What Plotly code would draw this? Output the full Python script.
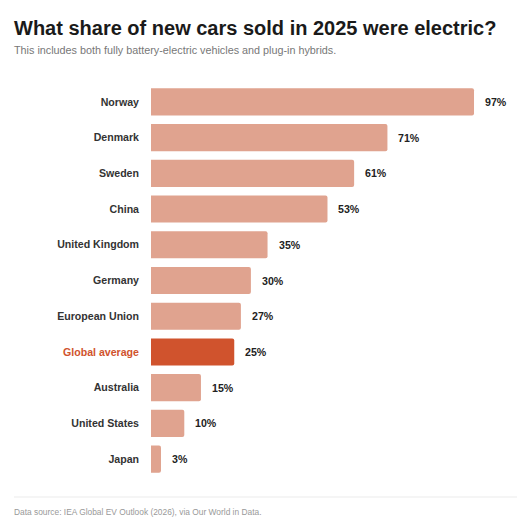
import plotly.graph_objects as go

countries = ["Norway", "Denmark", "Sweden", "China", "United Kingdom", "Germany",
             "European Union", "Global average", "Australia", "United States", "Japan"]
share = [97, 71, 61, 53, 35, 30, 27, 25, 15, 10, 3]
highlight = "Global average"

light = "#e0a38f"
dark = "#d0532d"

colors = [dark if c == highlight else light for c in countries]
ticktext = ['<span style="color:%s">%s</span>' % (dark, c) if c == highlight else c
            for c in countries]

fig = go.Figure()
fig.add_trace(go.Bar(
    x=share, y=countries, orientation="h",
    marker=dict(color=colors, line=dict(width=0)),
    width=0.76, hoverinfo="skip",
))

for c, v in zip(countries, share):
    fig.add_annotation(x=v, y=c, text="%d%%" % v, showarrow=False,
                       xanchor="left", xshift=9,
                       font=dict(size=10.6, color="#222", weight="bold"))

# page body adds an 8px offset, so margins are pulled in by 8px
fig.update_layout(
    width=525, height=528,
    margin=dict(l=143, r=49, t=76, b=59),
    paper_bgcolor="white", plot_bgcolor="white",
    font=dict(family="Liberation Sans, Arial, sans-serif", color="#333"),
    showlegend=False,
    barcornerradius=2,
    title=dict(text="What share of new cars sold in 2025 were electric?",
               x=6/525, xanchor="left", y=1 - 19.5/528, yanchor="middle",
               font=dict(size=20, color="#1a1a1a", weight="bold")),
)
fig.update_xaxes(range=[0, 100], visible=False, fixedrange=True)
fig.update_yaxes(autorange="reversed", tickmode="array", tickvals=countries,
                 ticktext=ticktext, ticks="", showgrid=False, zeroline=False,
                 showline=False, ticklabelstandoff=11,
                 tickfont=dict(size=10.6, color="#333", weight="bold"))

fig.add_annotation(text="This includes both fully battery-electric vehicles and plug-in hybrids.",
                   xref="paper", yref="paper", x=-139/333, y=1 + 34/393,
                   xanchor="left", yanchor="middle", showarrow=False,
                   font=dict(size=10.8, color="#777"))
fig.add_shape(type="line", xref="paper", yref="paper",
              x0=-137/333, x1=390/333, y0=-20/393, y1=-20/393,
              line=dict(color="#ebebeb", width=1))
fig.add_annotation(text="Data source: IEA Global EV Outlook (2026), via Our World in Data.",
                   xref="paper", yref="paper", x=-139/333, y=-35/393,
                   xanchor="left", yanchor="middle", showarrow=False,
                   font=dict(size=8.4, color="#999"))

fig.write_html("out.html")
